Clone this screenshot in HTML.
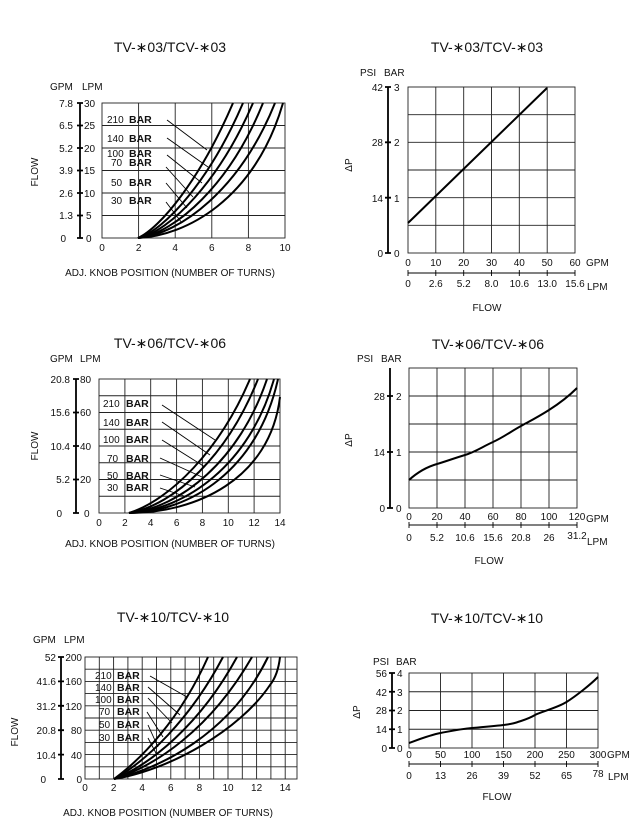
<!DOCTYPE html>
<html><head><meta charset="utf-8"><style>
html,body{margin:0;padding:0;background:#fff}
svg{display:block}
text{font-family:"Liberation Sans",sans-serif;fill:#111}
.t{font-size:14px}
.s{font-size:10px}
.b{font-size:10.5px;font-weight:bold}
.g{stroke:#222;stroke-width:0.9;fill:none}
.c{stroke:#000;stroke-width:2;fill:none}
.l{stroke:#000;stroke-width:0.9;fill:none}
.a{stroke:#000;stroke-width:1.8;fill:none}
</style></head><body>
<svg width="640" height="833" viewBox="0 0 640 833" xmlns="http://www.w3.org/2000/svg">
<!-- TITLES -->
<text class="t" x="170" y="52" text-anchor="middle">TV-∗03/TCV-∗03</text>
<text class="t" x="487" y="52" text-anchor="middle">TV-∗03/TCV-∗03</text>
<text class="t" x="170" y="348" text-anchor="middle">TV-∗06/TCV-∗06</text>
<text class="t" x="488" y="349" text-anchor="middle">TV-∗06/TCV-∗06</text>
<text class="t" x="173" y="622" text-anchor="middle">TV-∗10/TCV-∗10</text>
<text class="t" x="487" y="623" text-anchor="middle">TV-∗10/TCV-∗10</text>

<!-- ===== TOP LEFT ===== -->
<text class="s" x="50" y="90">GPM</text><text class="s" x="82" y="90">LPM</text>
<rect x="102" y="103" width="183" height="135" class="g"/>
<path class="g" d="M138.6,103V238M175.2,103V238M211.8,103V238M248.4,103V238M102,125.5H285M102,148H285M102,170.5H285M102,193H285M102,215.5H285"/>
<path class="a" d="M80,103V238M77,103H83M77,125.5H83M77,148H83M77,170.5H83M77,193H83M77,215.5H83M77,238H83"/>
<g class="s" text-anchor="end"><text x="73" y="107">7.8</text><text x="73" y="129">6.5</text><text x="73" y="152">5.2</text><text x="73" y="174">3.9</text><text x="73" y="197">2.6</text><text x="73" y="219">1.3</text><text x="66" y="242">0</text></g>
<g class="s"><text x="84" y="107">30</text><text x="84" y="129">25</text><text x="84" y="152">20</text><text x="84" y="174">15</text><text x="84" y="197">10</text><text x="86" y="219">5</text><text x="86" y="242">0</text></g>
<g class="s" text-anchor="middle"><text x="102" y="251">0</text><text x="138.6" y="251">2</text><text x="175.2" y="251">4</text><text x="211.8" y="251">6</text><text x="248.4" y="251">8</text><text x="285" y="251">10</text></g>
<text class="s" x="38" y="172" text-anchor="middle" transform="rotate(-90 38 172)">FLOW</text>
<text class="s" x="170" y="276" text-anchor="middle">ADJ. KNOB POSITION (NUMBER OF TURNS)</text>
<path class="c" d="M138,238C160,228 200,180 233,103"/>
<path class="c" d="M138,238C165,230 210,180 243,103"/>
<path class="c" d="M138,238C170,232 220,180 253,103"/>
<path class="c" d="M138,238C175,233 230,185 263,103"/>
<path class="c" d="M138,238C180,234 240,190 275,103"/>
<path class="c" d="M138,238C185,236 255,200 283,103"/>
<path class="l" d="M167,120L207,150M167,138L208,167M167,155L202,183M166,167L193,197M166,183L187,208M166,202L182,223"/>
<g class="s"><text x="107" y="123">210</text><text x="107" y="142">140</text><text x="107" y="157">100</text><text x="111" y="166">70</text><text x="111" y="186">50</text><text x="111" y="204">30</text></g>
<g class="b"><text x="129" y="123">BAR</text><text x="129" y="142">BAR</text><text x="129" y="157">BAR</text><text x="129" y="166">BAR</text><text x="129" y="186">BAR</text><text x="129" y="204">BAR</text></g>

<!-- ===== TOP RIGHT ===== -->
<text class="s" x="360" y="76">PSI</text><text class="s" x="384" y="76">BAR</text>
<rect x="408" y="87" width="167" height="166" class="g"/>
<path class="g" d="M435.8,87V253M463.7,87V253M491.5,87V253M519.3,87V253M547.2,87V253M408,114.7H575M408,142.3H575M408,170H575M408,197.7H575M408,225.3H575"/>
<path class="a" d="M388,87V253M385,87H391M385,142.3H391M385,197.7H391M385,253H391"/>
<g class="s" text-anchor="end"><text x="383" y="91">42</text><text x="383" y="146">28</text><text x="383" y="202">14</text><text x="383" y="257">0</text></g>
<g class="s"><text x="394" y="91">3</text><text x="394" y="146">2</text><text x="394" y="202">1</text><text x="394" y="257">0</text></g>
<text class="s" x="352" y="165" text-anchor="middle" transform="rotate(-90 352 165)">ΔP</text>
<g class="s" text-anchor="middle"><text x="408" y="266">0</text><text x="435.8" y="266">10</text><text x="463.7" y="266">20</text><text x="491.5" y="266">30</text><text x="519.3" y="266">40</text><text x="547.2" y="266">50</text><text x="575" y="266">60</text></g>
<text class="s" x="586" y="266">GPM</text>
<path class="l" d="M408,273H575M408,270V276M435.8,270V276M463.7,270V276M491.5,270V276M519.3,270V276M547.2,270V276M575,270V276"/>
<g class="s" text-anchor="middle"><text x="408" y="287">0</text><text x="435.8" y="287">2.6</text><text x="463.7" y="287">5.2</text><text x="491.5" y="287">8.0</text><text x="519.3" y="287">10.6</text><text x="547.2" y="287">13.0</text><text x="575" y="287">15.6</text></g>
<text class="s" x="587" y="290">LPM</text>
<text class="s" x="487" y="311" text-anchor="middle">FLOW</text>
<path class="c" d="M408,223L547,88"/>

<!-- ===== MIDDLE LEFT ===== -->
<text class="s" x="50" y="362">GPM</text><text class="s" x="80" y="362">LPM</text>
<rect x="99" y="379" width="181" height="134" class="g"/>
<path class="g" d="M124.9,379V513M150.7,379V513M176.6,379V513M202.4,379V513M228.3,379V513M254.1,379V513M99,395.75H280M99,412.5H280M99,429.25H280M99,446H280M99,462.75H280M99,479.5H280M99,496.25H280"/>
<path class="a" d="M76,379V513M73,379H79M73,412.5H79M73,446H79M73,479.5H79M73,513H79"/>
<g class="s" text-anchor="end"><text x="70" y="383">20.8</text><text x="70" y="416">15.6</text><text x="70" y="450">10.4</text><text x="70" y="483">5.2</text><text x="62" y="517">0</text></g>
<g class="s"><text x="80" y="383">80</text><text x="80" y="416">60</text><text x="80" y="450">40</text><text x="80" y="483">20</text><text x="84" y="517">0</text></g>
<g class="s" text-anchor="middle"><text x="99" y="526">0</text><text x="124.9" y="526">2</text><text x="150.7" y="526">4</text><text x="176.6" y="526">6</text><text x="202.4" y="526">8</text><text x="228.3" y="526">10</text><text x="254.1" y="526">12</text><text x="280" y="526">14</text></g>
<text class="s" x="38" y="446" text-anchor="middle" transform="rotate(-90 38 446)">FLOW</text>
<text class="s" x="170" y="547" text-anchor="middle">ADJ. KNOB POSITION (NUMBER OF TURNS)</text>
<path class="c" d="M129,513C170,500 220,450 250,379"/>
<path class="c" d="M129,513C175,505 228,455 258,379"/>
<path class="c" d="M129,513C180,508 240,460 267,379"/>
<path class="c" d="M129,513C185,510 250,465 274,379"/>
<path class="c" d="M129,513C190,512 258,470 278,379"/>
<path class="c" d="M129,513C195,513 270,480 280,397"/>
<path class="l" d="M162,405L215,440M162,422L210,455M162,440L205,467M160,458L202,477M160,475L195,487M160,488L187,497"/>
<g class="s"><text x="103" y="407">210</text><text x="103" y="426">140</text><text x="103" y="443">100</text><text x="107" y="462">70</text><text x="107" y="479">50</text><text x="107" y="491">30</text></g>
<g class="b"><text x="126" y="407">BAR</text><text x="126" y="426">BAR</text><text x="126" y="443">BAR</text><text x="126" y="462">BAR</text><text x="126" y="479">BAR</text><text x="126" y="491">BAR</text></g>

<!-- ===== MIDDLE RIGHT ===== -->
<text class="s" x="357" y="362">PSI</text><text class="s" x="381" y="362">BAR</text>
<rect x="409" y="368" width="168" height="140" class="g"/>
<path class="g" d="M437,368V508M465,368V508M493,368V508M521,368V508M549,368V508M409,396H577M409,424H577M409,452H577M409,480H577"/>
<path class="a" d="M390,368V508M387,396H393M387,452H393M387,508H393"/>
<g class="s" text-anchor="end"><text x="385" y="400">28</text><text x="385" y="456">14</text><text x="385" y="512">0</text></g>
<g class="s"><text x="396" y="400">2</text><text x="396" y="456">1</text><text x="396" y="512">0</text></g>
<text class="s" x="352" y="440" text-anchor="middle" transform="rotate(-90 352 440)">ΔP</text>
<g class="s" text-anchor="middle"><text x="409" y="520">0</text><text x="437" y="520">20</text><text x="465" y="520">40</text><text x="493" y="520">60</text><text x="521" y="520">80</text><text x="549" y="520">100</text><text x="577" y="520">120</text></g>
<text class="s" x="586" y="522">GPM</text>
<path class="l" d="M409,525H577M409,522V528M437,522V528M465,522V528M493,522V528M521,522V528M549,522V528M577,522V528"/>
<g class="s" text-anchor="middle"><text x="409" y="541">0</text><text x="437" y="541">5.2</text><text x="465" y="541">10.6</text><text x="493" y="541">15.6</text><text x="521" y="541">20.8</text><text x="549" y="541">26</text><text x="577" y="539">31.2</text></g>
<text class="s" x="587" y="545">LPM</text>
<text class="s" x="489" y="564" text-anchor="middle">FLOW</text>
<path class="c" d="M409,480C420,470 430,466 437,464S455,458 465,455S482,447 493,442S510,432 521,426S538,417 549,410S570,395 577,388"/>

<!-- ===== BOTTOM LEFT ===== -->
<text class="s" x="33" y="643">GPM</text><text class="s" x="64" y="643">LPM</text>
<rect x="85" y="657" width="212" height="122" class="g"/>
<path class="g" stroke-width="0.6" d="M99.3,657V779M113.6,657V779M127.9,657V779M142.2,657V779M156.5,657V779M170.8,657V779M185.1,657V779M199.4,657V779M213.7,657V779M228,657V779M242.3,657V779M256.6,657V779M270.9,657V779M285.2,657V779M85,766.8H297M85,742.4H297M85,718H297M85,693.6H297M85,669.2H297"/>
<path class="g" d="M85,754.6H297M85,730.2H297M85,705.8H297M85,681.4H297"/>
<path class="a" d="M61,657V779M58,657H64M58,681.4H64M58,705.8H64M58,730.2H64M58,754.6H64M58,779H64"/>
<g class="s" text-anchor="end"><text x="56" y="661">52</text><text x="56" y="685">41.6</text><text x="56" y="710">31.2</text><text x="56" y="734">20.8</text><text x="56" y="759">10.4</text><text x="46" y="783">0</text></g>
<g class="s" text-anchor="end"><text x="82" y="661">200</text><text x="82" y="685">160</text><text x="82" y="710">120</text><text x="82" y="734">80</text><text x="82" y="759">40</text><text x="82" y="783">0</text></g>
<g class="s" text-anchor="middle"><text x="85" y="791">0</text><text x="113.6" y="791">2</text><text x="142.2" y="791">4</text><text x="170.8" y="791">6</text><text x="199.4" y="791">8</text><text x="228" y="791">10</text><text x="256.6" y="791">12</text><text x="285.2" y="791">14</text></g>
<text class="s" x="18" y="732" text-anchor="middle" transform="rotate(-90 18 732)">FLOW</text>
<text class="s" x="168" y="816" text-anchor="middle">ADJ. KNOB POSITION (NUMBER OF TURNS)</text>
<path class="c" d="M114,779C140,760 180,720 208,657"/>
<path class="c" d="M114,779C145,762 190,720 223,657"/>
<path class="c" d="M114,779C150,765 200,725 237,657"/>
<path class="c" d="M114,779C155,766 210,730 252,657"/>
<path class="c" d="M114,779C160,768 230,735 268,657"/>
<path class="c" d="M114,779C170,770 240,730 270,685Q278,675 280,657"/>
<path class="l" d="M150,676L187,697M148,687L180,715M148,698L172,723M147,712L163,737M148,725L158,747M148,738L157,755"/>
<g class="s"><text x="95" y="679">210</text><text x="95" y="691">140</text><text x="95" y="703">100</text><text x="99" y="715">70</text><text x="99" y="728">50</text><text x="99" y="741">30</text></g>
<g class="b"><text x="117" y="679">BAR</text><text x="117" y="691">BAR</text><text x="117" y="703">BAR</text><text x="117" y="715">BAR</text><text x="117" y="728">BAR</text><text x="117" y="741">BAR</text></g>

<!-- ===== BOTTOM RIGHT ===== -->
<text class="s" x="373" y="665">PSI</text><text class="s" x="396" y="665">BAR</text>
<rect x="409" y="673" width="189" height="75" class="g"/>
<path class="g" d="M440.5,673V748M472,673V748M503.5,673V748M535,673V748M566.5,673V748M409,691.75H598M409,710.5H598M409,729.25H598"/>
<path class="a" d="M392,673V748M389,673H395M389,691.75H395M389,710.5H395M389,729.25H395M389,748H395"/>
<g class="s" text-anchor="end"><text x="387" y="677">56</text><text x="387" y="696">42</text><text x="387" y="714">28</text><text x="387" y="733">14</text><text x="387" y="752">0</text></g>
<g class="s"><text x="397" y="677">4</text><text x="397" y="696">3</text><text x="397" y="714">2</text><text x="397" y="733">1</text><text x="397" y="752">0</text></g>
<text class="s" x="360" y="712" text-anchor="middle" transform="rotate(-90 360 712)">ΔP</text>
<g class="s" text-anchor="middle"><text x="409" y="758">0</text><text x="440.5" y="758">50</text><text x="472" y="758">100</text><text x="503.5" y="758">150</text><text x="535" y="758">200</text><text x="566.5" y="758">250</text><text x="598" y="758">300</text></g>
<text class="s" x="607" y="758">GPM</text>
<path class="l" d="M409,764H598M409,761V767M440.5,761V767M472,761V767M503.5,761V767M535,761V767M566.5,761V767M598,761V767"/>
<g class="s" text-anchor="middle"><text x="409" y="779">0</text><text x="440.5" y="779">13</text><text x="472" y="779">26</text><text x="503.5" y="779">39</text><text x="535" y="779">52</text><text x="566.5" y="779">65</text><text x="598" y="777">78</text></g>
<text class="s" x="608" y="780">LPM</text>
<text class="s" x="497" y="800" text-anchor="middle">FLOW</text>
<path class="c" d="M409,743C420,739 430,735 440.5,733S460,729 472,728S495,726 503.5,725S515,723 521,721S530,718 535,715S557,708 566.5,702S590,685 598,677"/>
</svg>
</body></html>
